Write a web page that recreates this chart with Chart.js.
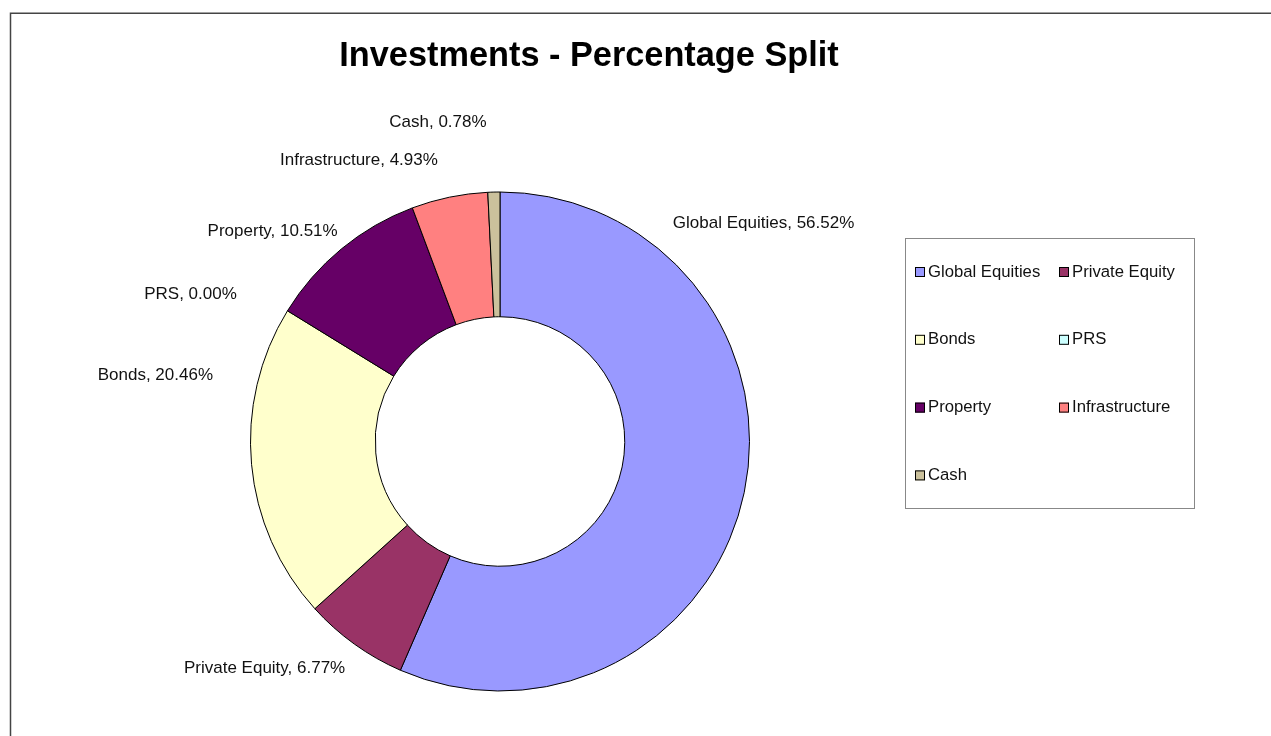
<!DOCTYPE html>
<html><head><meta charset="utf-8">
<script src="https://cdn.jsdelivr.net/npm/chart.js@4.4.1/dist/chart.umd.min.js"></script>
<style>html,body{margin:0;padding:0;background:#fff;overflow:hidden;} #wrap{width:1271px;height:736px;position:relative;}</style>
</head><body><div id="wrap"><canvas id="c"></canvas></div>
<script>
const categories = ['Global Equities','Private Equity','Bonds','PRS','Property','Infrastructure','Cash'];
const shares = [56.52, 6.77, 20.46, 0.00, 10.51, 4.93, 0.78];
const colors = ['#9999FF','#993366','#FFFFCC','#CCFFFF','#660066','#FF8080','#CBC19C'];
const chartTitle = 'Investments - Percentage Split';
// label placement tweaks relative to each slice: [angle shift in degrees, distance beyond outer radius]
const labelNudges = [[-63.4,29],[-1.4,25],[18.2,45],[-2.4,52],[1.8,16],[-0.8,38],[-1.0,70]];

const FONT = '"Liberation Sans", Arial, sans-serif';

const decor = {
  id: 'decor',
  afterDraw(chart) {
    const ctx = chart.ctx;
    ctx.save();
    // outer frame (top and left edges visible)
    ctx.strokeStyle = '#444';
    ctx.lineWidth = 1.5;
    ctx.beginPath();
    ctx.moveTo(10.5, 736);
    ctx.lineTo(10.5, 13.2);
    ctx.lineTo(1271, 13.2);
    ctx.stroke();

    // title
    ctx.fillStyle = '#000';
    ctx.font = 'bold 34.3px ' + FONT;
    ctx.textAlign = 'center';
    ctx.textBaseline = 'middle';
    ctx.fillText(chartTitle, 589, 57);

    // data labels
    const meta = chart.getDatasetMeta(0);
    ctx.font = '17px ' + FONT;
    ctx.fillStyle = '#111';
    meta.data.forEach((arc, i) => {
      const p = arc.getProps(['x','y','startAngle','endAngle','outerRadius'], true);
      const mid = (p.startAngle + p.endAngle) / 2 + labelNudges[i][0] * Math.PI / 180;
      const r = p.outerRadius + labelNudges[i][1];
      const lx = p.x + Math.cos(mid) * r;
      const ly = p.y + Math.sin(mid) * r;
      ctx.textAlign = Math.cos(mid) >= 0 ? 'left' : 'right';
      ctx.fillText(categories[i] + ', ' + shares[i].toFixed(2) + '%', lx, ly);
    });

    // legend
    const bx = 905, by = 238, bw = 289, bh = 270;
    ctx.strokeStyle = '#888';
    ctx.lineWidth = 1;
    ctx.strokeRect(bx + 0.5, by + 0.5, bw, bh);
    ctx.font = '16.7px ' + FONT;
    ctx.textAlign = 'left';
    const colX = [bx + 10, bx + 154];
    const row0 = by + 34, rowStep = 67.8;
    categories.forEach((name, i) => {
      const cx = colX[i % 2];
      const cy = row0 + Math.floor(i / 2) * rowStep;
      ctx.fillStyle = colors[i];
      ctx.fillRect(cx, cy - 5, 10, 10);
      ctx.strokeStyle = '#000';
      ctx.strokeRect(cx + 0.5, cy - 4.5, 9, 9);
      ctx.fillStyle = '#111';
      ctx.fillText(name, cx + 13, cy);
    });
    ctx.restore();
  }
};

new Chart(document.getElementById('c'), {
  type: 'doughnut',
  data: {
    labels: categories,
    datasets: [{
      data: shares,
      backgroundColor: colors,
      borderColor: '#000',
      borderWidth: 1,
      hoverOffset: 0,
      hoverBorderWidth: 1
    }]
  },
  options: {
    responsive: true,
    maintainAspectRatio: false,
    animation: false,
    events: [],
    cutout: '50%',
    layout: { padding: { left: 250, right: 521, top: 191, bottom: 44 } },
    plugins: { legend: { display: false }, title: { display: false }, tooltip: { enabled: false } }
  },
  plugins: [decor]
});
</script>
</body></html>
